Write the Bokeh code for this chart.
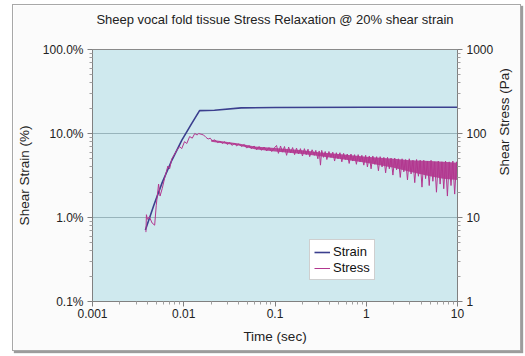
import math
from bokeh.plotting import figure
from bokeh.models import (LogAxis, Range1d, LogScale, FixedTicker, PrintfTickFormatter,
                          Legend, LegendItem, Title)
from bokeh.embed import file_html
from bokeh.resources import INLINE

TITLE = "Sheep vocal fold tissue Stress Relaxation @ 20% shear strain"

# Strain (%) vs time (s)
strain_t = [0.0038, 0.0047, 0.0058, 0.0074, 0.0095, 0.0122, 0.0149, 0.0217, 0.0426, 0.1, 1.0, 10.0]
strain_pct = [0.71, 1.4, 2.6, 4.8, 8.3, 13.1, 18.7, 18.9, 20.2, 20.4, 20.5, 20.5]

# Stress (Pa) vs time (s)
stress_t = [
    0.00385, 0.0039, 0.0040, 0.0042, 0.0045, 0.0048, 0.0050, 0.0053, 0.0055, 0.0058,
    0.0062, 0.0067, 0.0070, 0.0074, 0.0078, 0.0083, 0.0090, 0.0095, 0.0102, 0.0108,
    0.0116, 0.0124, 0.0132, 0.0140, 0.0146,
    0.0155, 0.0165, 0.0175, 0.0185, 0.0195, 0.0205, 0.022, 0.0235, 0.025, 0.0265,
    0.028, 0.030, 0.032, 0.034, 0.036, 0.038, 0.040, 0.043, 0.046, 0.049,
    0.052, 0.055, 0.059, 0.063, 0.067, 0.071, 0.076, 0.081, 0.086, 0.092, 0.098,
    0.104, 0.109, 0.115, 0.121, 0.127, 0.134, 0.141, 0.148, 0.156, 0.164,
    0.172, 0.181, 0.190, 0.200, 0.21, 0.22, 0.23, 0.24, 0.255, 0.27,
    0.28, 0.295, 0.305, 0.315, 0.325, 0.34, 0.355, 0.37, 0.39, 0.41,
    0.43, 0.45, 0.47, 0.49, 0.515, 0.54, 0.565, 0.59, 0.62, 0.65,
    0.68, 0.71, 0.745, 0.78, 0.815, 0.855, 0.895, 0.94, 0.985,
    1.03, 1.08, 1.13, 1.18, 1.24, 1.30, 1.36, 1.42, 1.49, 1.56,
    1.63, 1.71, 1.79, 1.87, 1.96, 2.05, 2.15, 2.25, 2.36, 2.47,
    2.58, 2.70, 2.83, 2.96, 3.10, 3.25, 3.40, 3.56, 3.73, 3.90,
    4.08, 4.27, 4.47, 4.68, 4.90, 5.13, 5.37, 5.62, 5.88, 6.16,
    6.45, 6.75, 7.07, 7.40, 7.75, 8.11, 8.49, 8.89, 9.31, 9.75, 10.0,
]
stress_pa = [
    6.7, 10.8, 9.5, 10.2, 8.6, 8.1, 14, 25, 18, 22,
    30, 41, 38, 50, 55, 62, 70, 66, 80, 76,
    92, 88, 100, 96, 100,
    98, 96, 90, 86, 88, 82, 84, 78, 81, 76,
    80, 74, 78, 72, 77, 71, 75, 70, 74, 67,
    72, 66, 71, 64, 70, 63, 69, 62, 68, 61, 67,
    72, 58, 71, 60, 70, 55, 69, 59, 68, 56,
    67, 57, 66, 54, 66, 56, 65, 53, 64, 55,
    63, 50, 62, 42, 63, 52, 61, 49, 61, 52,
    60, 47, 59, 50, 59, 46, 58, 49, 57, 44,
    57, 47, 56, 43, 56, 46, 55, 42, 55,
    40, 54, 38, 54, 43, 53, 36, 53, 40, 52,
    34, 52, 38, 51, 32, 51, 37, 50, 30, 50,
    35, 49, 28, 50, 33, 48, 26, 49, 31, 48,
    23, 48, 29, 47, 24, 48, 27, 46, 20, 47,
    25, 46, 22, 47, 18, 46, 24, 47, 19, 46, 30,
]

# Dense core of the noisy stress band (Pa)
band_t = [0.02, 0.04, 0.06, 0.1, 0.2, 0.3, 0.5, 1.0, 2.0, 3.0, 5.0, 7.0, 10.0]
band_hi = [84, 76, 70, 67, 63, 60, 57, 53, 50, 48, 47, 46, 45]
band_lo = [80, 72, 65, 61, 57, 54, 50, 45, 39, 35, 31, 29, 28]

x_ticks = [0.001, 0.01, 0.1, 1, 10]
strain_ticks = [0.1, 1, 10, 100]
stress_ticks = [1, 10, 100, 1000]

FONT = "Liberation Sans"
STRAIN_COLOR = "#3b3f8e"
STRESS_COLOR = "#b2378f"

def minors(lo, hi):
    out = []
    d = lo
    while d < hi:
        out += [d * k for k in range(2, 10)]
        d *= 10
    return out

p = figure(width=509, height=347, x_axis_type="log", y_axis_type="log",
           x_range=(0.001, 10), y_range=(0.1, 100),
           output_backend="svg", toolbar_location=None,
           min_border_left=78, min_border_right=62, min_border_top=0, min_border_bottom=51)
p.margin = (4, 0, 0, 12)
p.styles = {"border": "1px solid #a8a8a8", "box-shadow": "2px 2px 1px #9c9c9c"}
p.background_fill_color = "#cfe9ee"
p.border_fill_color = "#fbfbfb"
p.outline_line_color = "#8a8a8a"

spacer = Title(text=" ", text_font_size="15px", text_font=FONT, standoff=0)
p.add_layout(spacer, "above")
title = Title(text=TITLE, text_font=FONT, text_font_size="13px", text_font_style="normal",
              text_color="#222222", align="center", standoff=8)
p.add_layout(title, "above")

p.extra_y_ranges = {"stress": Range1d(1, 1000)}
p.extra_y_scales = {"stress": LogScale()}
right = LogAxis(y_range_name="stress", axis_label="Shear Stress (Pa)")
p.add_layout(right, "right")

p.xaxis.ticker = FixedTicker(ticks=x_ticks, minor_ticks=minors(0.001, 10))
p.xaxis.formatter = PrintfTickFormatter(format="%g")
p.xaxis.axis_label = "Time (sec)"
p.yaxis[0].ticker = FixedTicker(ticks=strain_ticks, minor_ticks=minors(0.1, 100))
p.yaxis[0].formatter = PrintfTickFormatter(format="%.1f%%")
p.yaxis[0].axis_label = "Shear Strain (%)"
right.ticker = FixedTicker(ticks=stress_ticks, minor_ticks=minors(1, 1000))
right.formatter = PrintfTickFormatter(format="%g")

for ax in [p.xaxis[0], p.yaxis[0], right]:
    ax.axis_line_color = "#808080"
    ax.major_tick_line_color = "#808080"
    ax.minor_tick_line_color = "#a0a0a0"
    ax.major_tick_in = 0
    ax.major_tick_out = 5
    ax.minor_tick_in = 0
    ax.minor_tick_out = 3
    ax.major_label_text_font = FONT
    ax.major_label_text_font_size = "12px"
    ax.major_label_text_color = "#222222"
    ax.axis_label_text_font = FONT
    ax.axis_label_text_font_size = "13.5px"
    ax.axis_label_text_font_style = "normal"
    ax.axis_label_text_color = "#222222"
    ax.major_label_standoff = 4
    ax.axis_label_standoff = 8
p.xaxis.major_label_standoff = 2
p.xaxis.axis_label_standoff = 8
right.axis_label_orientation = math.pi / 2
right.axis_label_standoff = 8

p.xgrid.visible = False
p.ygrid.grid_line_color = "#98b4bb"
p.ygrid.minor_grid_line_color = None

r_strain = p.line(strain_t, strain_pct, line_color=STRAIN_COLOR, line_width=1.6)
p.varea(x=band_t, y1=band_lo, y2=band_hi, fill_color=STRESS_COLOR, fill_alpha=0.9,
        y_range_name="stress")
r_stress = p.line(stress_t, stress_pa, line_color=STRESS_COLOR, line_width=1.0,
                  y_range_name="stress")

legend = Legend(items=[LegendItem(label="Strain", renderers=[r_strain]),
                       LegendItem(label="Stress", renderers=[r_stress])],
                location=(217, 21))
legend.label_text_font = FONT
legend.label_text_font_size = "13px"
legend.label_text_color = "#111111"
legend.glyph_width = 16
legend.glyph_height = 14
legend.label_height = 14
legend.label_standoff = 3
legend.spacing = 1
legend.padding = 4
legend.margin = 0
legend.border_line_color = "#a0a0a0"
legend.background_fill_color = "white"
legend.background_fill_alpha = 1.0
p.add_layout(legend)

open("out.html", "w").write(file_html(p, INLINE))
